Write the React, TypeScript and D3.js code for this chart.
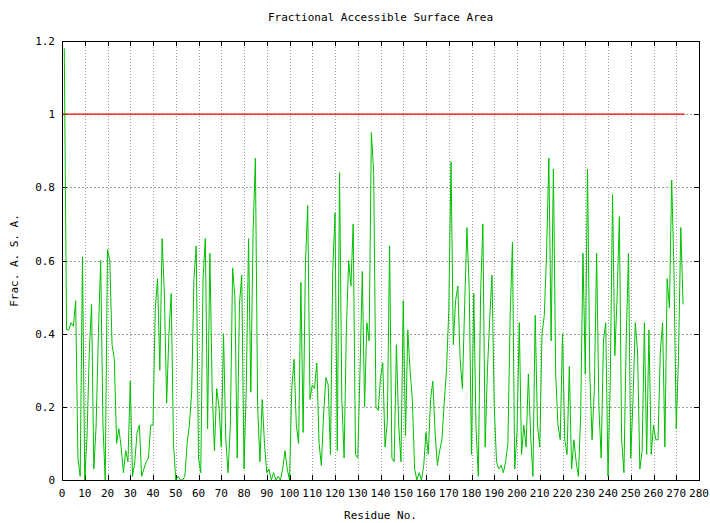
import React from "react";
import * as d3 from "d3";

const title = "Fractional Accessible Surface Area";
const xLabel = "Residue No.";
const yLabel = "Frac. A. S. A.";
const xTicks = [0, 10, 20, 30, 40, 50, 60, 70, 80, 90, 100, 110, 120, 130, 140, 150, 160, 170, 180, 190, 200, 210, 220, 230, 240, 250, 260, 270, 280];
const yTicks = [0, 0.2, 0.4, 0.6, 0.8, 1, 1.2];
const xDomain = [0, 280];
const yDomain = [0, 1.2];
const thresholdValue = 1;
const thresholdRange = [0, 273.7];
const firstResidue = 1;
const fasa = [
  1.18, 0.41, 0.41, 0.43, 0.42, 0.49, 0.06, 0.01, 0.61, 0.0,
  0.12, 0.35, 0.48, 0.03, 0.15, 0.4, 0.6, 0.15, 0.0, 0.63,
  0.6, 0.37, 0.33, 0.1, 0.14, 0.09, 0.02, 0.08, 0.05, 0.27,
  0.01, 0.05, 0.13, 0.15, 0.01, 0.03, 0.05, 0.06, 0.15, 0.15,
  0.47, 0.55, 0.3, 0.66, 0.51, 0.21, 0.4, 0.51, 0.1, 0.0,
  0.01, 0.0, 0.0, 0.01, 0.1, 0.15, 0.24, 0.55, 0.64, 0.06,
  0.02, 0.55, 0.66, 0.14, 0.62, 0.25, 0.08, 0.25, 0.2, 0.09,
  0.4, 0.11, 0.02, 0.15, 0.58, 0.5, 0.06, 0.48, 0.56, 0.03,
  0.25, 0.66, 0.24, 0.68, 0.88, 0.2, 0.05, 0.22, 0.1, 0.02,
  0.03, 0.0, 0.02, 0.0, 0.01, 0.0, 0.03, 0.08, 0.03, 0.0,
  0.25, 0.33, 0.15, 0.1, 0.54, 0.13, 0.59, 0.75, 0.22, 0.26,
  0.25, 0.32, 0.1, 0.04, 0.18, 0.28, 0.26, 0.07, 0.57, 0.73,
  0.08, 0.84, 0.22, 0.06, 0.41, 0.6, 0.53, 0.7, 0.07, 0.06,
  0.3, 0.57, 0.2, 0.43, 0.38, 0.95, 0.84, 0.2, 0.19, 0.28,
  0.32, 0.09, 0.16, 0.64, 0.06, 0.05, 0.37, 0.15, 0.05, 0.49,
  0.12, 0.41, 0.3, 0.22, 0.03, 0.0, 0.02, 0.0, 0.04, 0.13,
  0.07, 0.22, 0.27, 0.13, 0.04, 0.08, 0.11, 0.21, 0.3, 0.46,
  0.87, 0.37, 0.49, 0.53, 0.33, 0.25, 0.48, 0.69, 0.52, 0.07,
  0.51, 0.14, 0.01, 0.51, 0.7, 0.09, 0.3, 0.44, 0.56, 0.2,
  0.05, 0.03, 0.04, 0.02, 0.05, 0.1, 0.45, 0.65, 0.03, 0.13,
  0.43, 0.07, 0.15, 0.09, 0.29, 0.12, 0.01, 0.45, 0.15, 0.09,
  0.4, 0.45, 0.62, 0.88, 0.38, 0.85, 0.29, 0.15, 0.11, 0.4,
  0.11, 0.07, 0.31, 0.03, 0.11, 0.05, 0.01, 0.18, 0.62, 0.29,
  0.85, 0.29, 0.11, 0.25, 0.62, 0.2, 0.06, 0.38, 0.43, 0.01,
  0.27, 0.78, 0.34, 0.5, 0.72, 0.11, 0.02, 0.38, 0.62, 0.06,
  0.22, 0.43, 0.35, 0.03, 0.08, 0.43, 0.07, 0.41, 0.07, 0.15,
  0.11, 0.11, 0.35, 0.43, 0.09, 0.55, 0.47, 0.82, 0.57, 0.14,
  0.34, 0.69, 0.48,
];

const W = 710;
const H = 523;
const M = { left: 62, right: 11, top: 41, bottom: 43 };
const FONT = "'DejaVu Sans Mono', monospace";

export default function App() {
  const x = d3.scaleLinear().domain(xDomain).range([M.left, W - M.right]);
  const y = d3.scaleLinear().domain(yDomain).range([H - M.bottom, M.top]);
  const pts = fasa.map((v, i) => [firstResidue + i, v] as [number, number]);
  const line = d3.line<[number, number]>().x((d) => x(d[0])).y((d) => y(d[1]));
  const x0 = x(xDomain[0]);
  const x1 = x(xDomain[1]);
  const y0 = y(yDomain[0]);
  const y1 = y(yDomain[1]);
  const tick = 5;
  const fmt = (v: number) => String(+v.toFixed(1));
  return (
    <svg width={W} height={H} style={{ position: "absolute", left: 0, top: 0, background: "#fff" }} fontFamily={FONT}>
      <rect x={0} y={0} width={W} height={H} fill="#fff" />
      {/* grid */}
      {xTicks.slice(1, -1).map((t) => (
        <line key={"gx" + t} x1={Math.round(x(t)) + 0.5} x2={Math.round(x(t)) + 0.5} y1={y0} y2={y1} stroke="#a0a0a0" strokeDasharray="1,2" />
      ))}
      {yTicks.slice(1, -1).map((t) => (
        <line key={"gy" + t} y1={Math.round(y(t)) + 0.5} y2={Math.round(y(t)) + 0.5} x1={x0} x2={x1} stroke="#a0a0a0" strokeDasharray="2,2" />
      ))}
      {/* ticks */}
      {xTicks.map((t) => (
        <g key={"tx" + t}>
          <line x1={Math.round(x(t)) + 0.5} x2={Math.round(x(t)) + 0.5} y1={y0} y2={y0 - tick} stroke="#000" />
          <line x1={Math.round(x(t)) + 0.5} x2={Math.round(x(t)) + 0.5} y1={y1} y2={y1 + tick} stroke="#000" />
          <text x={x(t)} y={y0 + 17} fontSize={11} textAnchor="middle" fill="#000">{t}</text>
        </g>
      ))}
      {yTicks.map((t) => (
        <g key={"ty" + t}>
          <line x1={x0} x2={x0 + tick} y1={Math.round(y(t)) + 0.5} y2={Math.round(y(t)) + 0.5} stroke="#000" />
          <line x1={x1} x2={x1 - tick} y1={Math.round(y(t)) + 0.5} y2={Math.round(y(t)) + 0.5} stroke="#000" />
          <text x={x0 - 7} y={y(t) + 4} fontSize={11} textAnchor="end" fill="#000">{fmt(t)}</text>
        </g>
      ))}
      {/* threshold */}
      <line x1={x(thresholdRange[0])} x2={x(thresholdRange[1])} y1={y(thresholdValue)} y2={y(thresholdValue)} stroke="#ff0000" strokeWidth={1.2} />
      {/* data */}
      <path d={line(pts) || ""} fill="none" stroke="#00c000" strokeWidth={1} />
      {/* frame */}
      <rect x={x0 + 0.5} y={y1 + 0.5} width={x1 - x0} height={y0 - y1} fill="none" stroke="#000" />
      {/* labels */}
      <text x={(x0 + x1) / 2} y={21} fontSize={11} textAnchor="middle" fill="#000">{title}</text>
      <text x={(x0 + x1) / 2} y={H - 4} fontSize={11} textAnchor="middle" fill="#000">{xLabel}</text>
      <text transform={`translate(18,${(y0 + y1) / 2}) rotate(-90)`} fontSize={11} textAnchor="middle" fill="#000">{yLabel}</text>
    </svg>
  );
}
